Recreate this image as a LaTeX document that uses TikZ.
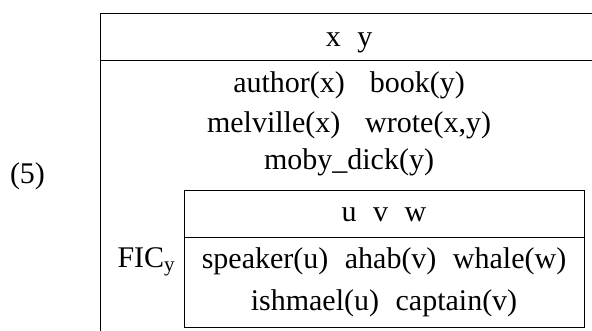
\documentclass[tikz,border=0pt]{standalone}
\usepackage{fontspec}
\setmainfont{Liberation Serif}
\tikzset{cond/.style={font=\fontsize{30}{36}\selectfont, anchor=base, inner sep=0pt}}
\begin{document}
\begin{tikzpicture}[x=1pt,y=-1pt,line width=1pt]
\useasboundingbox (0,0) rectangle (592,331);
% outer box
\coordinate (otl) at (100,13.5);
\coordinate (obr) at (598,345);
\coordinate (osl) at (100,61);
\coordinate (osr) at (598,61);
\path[draw] (otl) rectangle (obr);
\path[draw] (osl) -- (osr);
% inner box
\coordinate (itl) at (184.5,191);
\coordinate (ibr) at (584,327);
\coordinate (isl) at (184.5,238);
\coordinate (isr) at (584,238);
\path[draw] (itl) rectangle (ibr);
\path[draw] (isl) -- (isr);
\node[cond] (num) at (27.5,184) {(5)};
\node[cond] (xy) at (349,47) {x\hspace{.55em}y};
\node[cond] (c1) at (349,93) {author(x)\hspace{.83em}book(y)};
\node[cond] (c2) at (349,133) {melville(x)\hspace{.83em}wrote(x,y)};
\node[cond] (c3) at (349,170) {moby\_dick(y)};
\node[cond, anchor=base west] (fic) at (117,268) {FIC\textsubscript{y}};
\node[cond] (uvw) at (384,222) {u\hspace{.55em}v\hspace{.55em}w};
\node[cond] (c4) at (384,269) {speaker(u)\hspace{.55em}ahab(v)\hspace{.55em}whale(w)};
\node[cond] (c5) at (384,310) {ishmael(u)\hspace{.55em}captain(v)};
\end{tikzpicture}
\end{document}
